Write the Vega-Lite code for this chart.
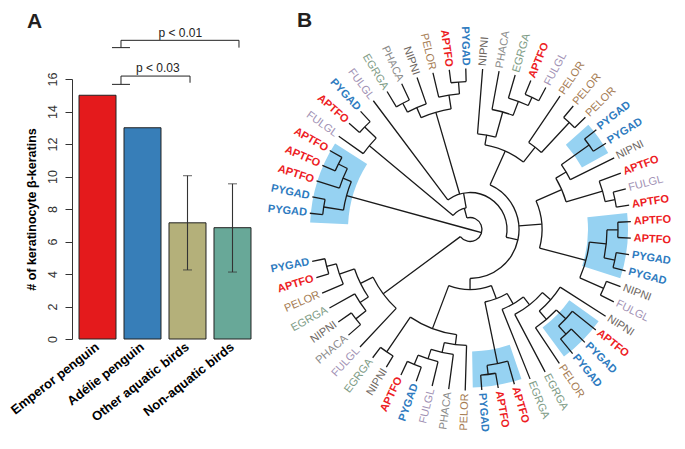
{
  "$schema": "https://vega.github.io/schema/vega-lite/v6.json",
  "padding": {"left": 8, "top": 10, "right": 0, "bottom": 0},
  "background": "white",
  "bounds": "flush",
  "spacing": 62,
  "config": {
    "view": {"stroke": null},
    "font": "Liberation Sans",
    "axisY": {"values": [0, 2, 4, 6, 8, 10, 12, 14, 16], "labelOverlap": false, "grid": false, "labelAngle": -90, "labelAlign": "center", "labelBaseline": "bottom", "tickSize": 7, "labelPadding": 6, "labelFontSize": 12.5, "labelColor": "#333", "tickColor": "#333", "domainColor": "#333", "titleFontSize": 12.5, "titleFontWeight": "bold", "titleColor": "#000", "titlePadding": 8, "labelFont": "Liberation Sans", "titleFont": "Liberation Sans"}
  },
  "resolve": {"scale": {"color": "independent"}},
  "datasets": {
    "bars": [
      {"group": "Emperor penguin", "value": 15},
      {"group": "Adélie penguin", "value": 13},
      {"group": "Other aquatic birds", "value": 7.15, "lo": 4.25, "hi": 10.05},
      {"group": "Non-aquatic birds", "value": 6.85, "lo": 4.12, "hi": 9.55}
    ],
    "brackets": [
      {"x": 1.322, "x2": 1.722, "y": 15.67, "y2": 15.67},
      {"x": 1.522, "x2": 1.522, "y": 15.67, "y2": 16.18},
      {"x": 1.522, "x2": 3.056, "y": 16.18, "y2": 16.18},
      {"x": 3.056, "x2": 3.056, "y": 16.18, "y2": 15.77},
      {"x": 1.322, "x2": 1.722, "y": 17.93, "y2": 17.93},
      {"x": 1.522, "x2": 1.522, "y": 17.93, "y2": 18.38},
      {"x": 1.522, "x2": 4.144, "y": 18.38, "y2": 18.38},
      {"x": 4.144, "x2": 4.144, "y": 18.38, "y2": 17.93}
    ],
    "ptext": [
      {"label": "p < 0.03", "x": 2.34, "y": 16.45},
      {"label": "p < 0.01", "x": 2.84, "y": 18.58}
    ],
    "hl": [
      {"t0": 272.5, "t1": 302.5, "r0": 122, "r1": 160},
      {"t0": 48.5, "t1": 61, "r0": 128, "r1": 158},
      {"t0": 84, "t1": 108, "r0": 118, "r1": 158},
      {"t0": 125.5, "t1": 143.5, "r0": 122, "r1": 158},
      {"t0": 161, "t1": 179, "r0": 122, "r1": 158}
    ],
    "segs": [
      {"t0": 275.8, "t1": 275.8, "r0": 148, "r1": 161},
      {"t0": 281.7, "t1": 281.7, "r0": 148, "r1": 161},
      {"t0": 287.6, "t1": 287.6, "r0": 137, "r1": 161},
      {"t0": 293.5, "t1": 293.5, "r0": 147, "r1": 161},
      {"t0": 299.4, "t1": 299.4, "r0": 147, "r1": 161},
      {"t0": 305.4, "t1": 305.4, "r0": 131, "r1": 161},
      {"t0": 311.3, "t1": 311.3, "r0": 147, "r1": 161},
      {"t0": 317.2, "t1": 317.2, "r0": 147, "r1": 161},
      {"t0": 323.1, "t1": 323.1, "r0": 37, "r1": 161},
      {"t0": 329.0, "t1": 329.0, "r0": 143, "r1": 161},
      {"t0": 334.9, "t1": 334.9, "r0": 143, "r1": 161},
      {"t0": 340.8, "t1": 340.8, "r0": 133, "r1": 161},
      {"t0": 346.7, "t1": 346.7, "r0": 136, "r1": 161},
      {"t0": 352.6, "t1": 352.6, "r0": 148, "r1": 161},
      {"t0": 358.5, "t1": 358.5, "r0": 148, "r1": 161},
      {"t0": 4.5, "t1": 4.5, "r0": 96, "r1": 161},
      {"t0": 10.4, "t1": 10.4, "r0": 122, "r1": 161},
      {"t0": 16.3, "t1": 16.3, "r0": 137, "r1": 161},
      {"t0": 22.2, "t1": 22.2, "r0": 146, "r1": 161},
      {"t0": 28.1, "t1": 28.1, "r0": 146, "r1": 161},
      {"t0": 34.0, "t1": 34.0, "r0": 105, "r1": 161},
      {"t0": 39.9, "t1": 39.9, "r0": 146, "r1": 161},
      {"t0": 45.8, "t1": 45.8, "r0": 146, "r1": 161},
      {"t0": 51.7, "t1": 51.7, "r0": 146, "r1": 161},
      {"t0": 57.6, "t1": 57.6, "r0": 146, "r1": 161},
      {"t0": 63.6, "t1": 63.6, "r0": 112, "r1": 161},
      {"t0": 69.5, "t1": 69.5, "r0": 138, "r1": 161},
      {"t0": 75.4, "t1": 75.4, "r0": 148, "r1": 161},
      {"t0": 81.3, "t1": 81.3, "r0": 148, "r1": 161},
      {"t0": 87.2, "t1": 87.2, "r0": 148, "r1": 161},
      {"t0": 93.1, "t1": 93.1, "r0": 148, "r1": 161},
      {"t0": 99.0, "t1": 99.0, "r0": 148, "r1": 161},
      {"t0": 104.9, "t1": 104.9, "r0": 148, "r1": 161},
      {"t0": 110.8, "t1": 110.8, "r0": 146, "r1": 161},
      {"t0": 116.7, "t1": 116.7, "r0": 146, "r1": 161},
      {"t0": 122.6, "t1": 122.6, "r0": 107, "r1": 161},
      {"t0": 128.6, "t1": 128.6, "r0": 131, "r1": 161},
      {"t0": 134.5, "t1": 134.5, "r0": 142, "r1": 161},
      {"t0": 140.4, "t1": 140.4, "r0": 142, "r1": 161},
      {"t0": 146.3, "t1": 146.3, "r0": 118, "r1": 161},
      {"t0": 152.2, "t1": 152.2, "r0": 96, "r1": 161},
      {"t0": 158.1, "t1": 158.1, "r0": 86, "r1": 161},
      {"t0": 164.0, "t1": 164.0, "r0": 137, "r1": 161},
      {"t0": 169.9, "t1": 169.9, "r0": 146, "r1": 161},
      {"t0": 175.8, "t1": 175.8, "r0": 146, "r1": 161},
      {"t0": 181.7, "t1": 181.7, "r0": 116, "r1": 161},
      {"t0": 187.6, "t1": 187.6, "r0": 126, "r1": 161},
      {"t0": 193.6, "t1": 193.6, "r0": 136, "r1": 161},
      {"t0": 199.5, "t1": 199.5, "r0": 146, "r1": 161},
      {"t0": 205.4, "t1": 205.4, "r0": 146, "r1": 161},
      {"t0": 211.3, "t1": 211.3, "r0": 148, "r1": 161},
      {"t0": 217.2, "t1": 217.2, "r0": 148, "r1": 161},
      {"t0": 223.1, "t1": 223.1, "r0": 108, "r1": 161},
      {"t0": 229.0, "t1": 229.0, "r0": 145, "r1": 161},
      {"t0": 234.9, "t1": 234.9, "r0": 145, "r1": 161},
      {"t0": 240.8, "t1": 240.8, "r0": 132, "r1": 161},
      {"t0": 246.7, "t1": 246.7, "r0": 138, "r1": 161},
      {"t0": 252.6, "t1": 252.6, "r0": 148, "r1": 161},
      {"t0": 258.6, "t1": 258.6, "r0": 148, "r1": 161},
      {"t0": 278.75, "t1": 278.75, "r0": 128, "r1": 148},
      {"t0": 296.45, "t1": 296.45, "r0": 137, "r1": 147},
      {"t0": 292.0, "t1": 292.0, "r0": 128, "r1": 137},
      {"t0": 285.4, "t1": 285.4, "r0": 0, "r1": 128},
      {"t0": 314.25, "t1": 314.25, "r0": 131, "r1": 147},
      {"t0": 309.8, "t1": 309.8, "r0": 22, "r1": 131},
      {"t0": 331.95, "t1": 331.95, "r0": 133, "r1": 143},
      {"t0": 336.4, "t1": 336.4, "r0": 122, "r1": 133},
      {"t0": 355.55, "t1": 355.55, "r0": 136, "r1": 148},
      {"t0": 351.1, "t1": 351.1, "r0": 122, "r1": 136},
      {"t0": 343.75, "t1": 343.75, "r0": 37, "r1": 122},
      {"t0": 25.15, "t1": 25.15, "r0": 137, "r1": 146},
      {"t0": 20.7, "t1": 20.7, "r0": 122, "r1": 137},
      {"t0": 15.55, "t1": 15.55, "r0": 96, "r1": 122},
      {"t0": 10.0, "t1": 10.0, "r0": 86, "r1": 96},
      {"t0": 42.85, "t1": 42.85, "r0": 105, "r1": 146},
      {"t0": 38.4, "t1": 38.4, "r0": 86, "r1": 105},
      {"t0": 24.2, "t1": 24.2, "r0": 49, "r1": 86},
      {"t0": 54.65, "t1": 54.65, "r0": 112, "r1": 146},
      {"t0": 59.1, "t1": 59.1, "r0": 100, "r1": 112},
      {"t0": 78.35, "t1": 78.35, "r0": 138, "r1": 148},
      {"t0": 73.9, "t1": 73.9, "r0": 100, "r1": 138},
      {"t0": 66.5, "t1": 66.5, "r0": 72, "r1": 100},
      {"t0": 90.15, "t1": 90.15, "r0": 137, "r1": 148},
      {"t0": 101.95, "t1": 101.95, "r0": 137, "r1": 148},
      {"t0": 96.05, "t1": 96.05, "r0": 120, "r1": 137},
      {"t0": 113.75, "t1": 113.75, "r0": 120, "r1": 146},
      {"t0": 104.9, "t1": 104.9, "r0": 72, "r1": 120},
      {"t0": 85.7, "t1": 85.7, "r0": 49, "r1": 72},
      {"t0": 137.45, "t1": 137.45, "r0": 131, "r1": 142},
      {"t0": 133.0, "t1": 133.0, "r0": 118, "r1": 131},
      {"t0": 139.65, "t1": 139.65, "r0": 107, "r1": 118},
      {"t0": 131.1, "t1": 131.1, "r0": 96, "r1": 107},
      {"t0": 141.65, "t1": 141.65, "r0": 86, "r1": 96},
      {"t0": 149.9, "t1": 149.9, "r0": 74, "r1": 86},
      {"t0": 172.85, "t1": 172.85, "r0": 137, "r1": 146},
      {"t0": 168.4, "t1": 168.4, "r0": 74, "r1": 137},
      {"t0": 159.15, "t1": 159.15, "r0": 60, "r1": 74},
      {"t0": 202.45, "t1": 202.45, "r0": 136, "r1": 146},
      {"t0": 198.0, "t1": 198.0, "r0": 126, "r1": 136},
      {"t0": 192.8, "t1": 192.8, "r0": 116, "r1": 126},
      {"t0": 187.25, "t1": 187.25, "r0": 106, "r1": 116},
      {"t0": 214.25, "t1": 214.25, "r0": 106, "r1": 148},
      {"t0": 200.75, "t1": 200.75, "r0": 60, "r1": 106},
      {"t0": 179.95, "t1": 179.95, "r0": 49, "r1": 60},
      {"t0": 102.1, "t1": 102.1, "r0": 37, "r1": 49},
      {"t0": 255.6, "t1": 255.6, "r0": 138, "r1": 148},
      {"t0": 251.15, "t1": 251.15, "r0": 122, "r1": 138},
      {"t0": 231.95, "t1": 231.95, "r0": 132, "r1": 145},
      {"t0": 236.4, "t1": 236.4, "r0": 122, "r1": 132},
      {"t0": 243.8, "t1": 243.8, "r0": 108, "r1": 122},
      {"t0": 233.45, "t1": 233.45, "r0": 12, "r1": 108},
      {"t0": 350, "t1": 350, "r0": 22, "r1": 37},
      {"t0": 345, "t1": 345, "r0": 12, "r1": 22},
      {"t0": 105, "t1": 105, "r0": 0, "r1": 12},
      {"t0": 275.8, "t1": 281.7, "r0": 148, "r1": 148},
      {"t0": 293.5, "t1": 299.4, "r0": 147, "r1": 147},
      {"t0": 287.6, "t1": 296.45, "r0": 137, "r1": 137},
      {"t0": 278.75, "t1": 292.0, "r0": 128, "r1": 128},
      {"t0": 311.3, "t1": 317.2, "r0": 147, "r1": 147},
      {"t0": 305.4, "t1": 314.25, "r0": 131, "r1": 131},
      {"t0": 329.0, "t1": 334.9, "r0": 143, "r1": 143},
      {"t0": 331.95, "t1": 340.8, "r0": 133, "r1": 133},
      {"t0": 352.6, "t1": 358.5, "r0": 148, "r1": 148},
      {"t0": 346.7, "t1": 355.55, "r0": 136, "r1": 136},
      {"t0": 336.4, "t1": 351.1, "r0": 122, "r1": 122},
      {"t0": 22.2, "t1": 28.1, "r0": 146, "r1": 146},
      {"t0": 16.3, "t1": 25.15, "r0": 137, "r1": 137},
      {"t0": 10.4, "t1": 20.7, "r0": 122, "r1": 122},
      {"t0": 4.5, "t1": 15.55, "r0": 96, "r1": 96},
      {"t0": 39.9, "t1": 45.8, "r0": 146, "r1": 146},
      {"t0": 34.0, "t1": 42.85, "r0": 105, "r1": 105},
      {"t0": 10.0, "t1": 38.4, "r0": 86, "r1": 86},
      {"t0": 51.7, "t1": 57.6, "r0": 146, "r1": 146},
      {"t0": 54.65, "t1": 63.6, "r0": 112, "r1": 112},
      {"t0": 75.4, "t1": 81.3, "r0": 148, "r1": 148},
      {"t0": 69.5, "t1": 78.35, "r0": 138, "r1": 138},
      {"t0": 59.1, "t1": 73.9, "r0": 100, "r1": 100},
      {"t0": 87.2, "t1": 93.1, "r0": 148, "r1": 148},
      {"t0": 99.0, "t1": 104.9, "r0": 148, "r1": 148},
      {"t0": 90.15, "t1": 101.95, "r0": 137, "r1": 137},
      {"t0": 110.8, "t1": 116.7, "r0": 146, "r1": 146},
      {"t0": 96.05, "t1": 113.75, "r0": 120, "r1": 120},
      {"t0": 66.5, "t1": 104.9, "r0": 72, "r1": 72},
      {"t0": 134.5, "t1": 140.4, "r0": 142, "r1": 142},
      {"t0": 128.6, "t1": 137.45, "r0": 131, "r1": 131},
      {"t0": 133.0, "t1": 146.3, "r0": 118, "r1": 118},
      {"t0": 122.6, "t1": 139.65, "r0": 107, "r1": 107},
      {"t0": 131.1, "t1": 152.2, "r0": 96, "r1": 96},
      {"t0": 141.65, "t1": 158.1, "r0": 86, "r1": 86},
      {"t0": 169.9, "t1": 175.8, "r0": 146, "r1": 146},
      {"t0": 164.0, "t1": 172.85, "r0": 137, "r1": 137},
      {"t0": 149.9, "t1": 168.4, "r0": 74, "r1": 74},
      {"t0": 199.5, "t1": 205.4, "r0": 146, "r1": 146},
      {"t0": 193.6, "t1": 202.45, "r0": 136, "r1": 136},
      {"t0": 187.6, "t1": 198.0, "r0": 126, "r1": 126},
      {"t0": 181.7, "t1": 192.8, "r0": 116, "r1": 116},
      {"t0": 211.3, "t1": 217.2, "r0": 148, "r1": 148},
      {"t0": 187.25, "t1": 214.25, "r0": 106, "r1": 106},
      {"t0": 159.15, "t1": 200.75, "r0": 60, "r1": 60},
      {"t0": 24.2, "t1": 179.95, "r0": 49, "r1": 49},
      {"t0": 252.6, "t1": 258.6, "r0": 148, "r1": 148},
      {"t0": 246.7, "t1": 255.6, "r0": 138, "r1": 138},
      {"t0": 229.0, "t1": 234.9, "r0": 145, "r1": 145},
      {"t0": 231.95, "t1": 240.8, "r0": 132, "r1": 132},
      {"t0": 236.4, "t1": 251.15, "r0": 122, "r1": 122},
      {"t0": 223.1, "t1": 243.8, "r0": 108, "r1": 108},
      {"t0": 323.1, "t1": 462.1, "r0": 37, "r1": 37},
      {"t0": 309.8, "t1": 350, "r0": 22, "r1": 22},
      {"t0": 345, "t1": 593.45, "r0": 12, "r1": 12}
    ],
    "tips": [
      {"label": "PYGAD", "t": 275.8}, {"label": "PYGAD", "t": 281.7}, {"label": "APTFO", "t": 287.6},
      {"label": "APTFO", "t": 293.5}, {"label": "APTFO", "t": 299.4}, {"label": "FULGL", "t": 305.4},
      {"label": "APTFO", "t": 311.3}, {"label": "PYGAD", "t": 317.2}, {"label": "FULGL", "t": 323.1},
      {"label": "EGRGA", "t": 329.0}, {"label": "PHACA", "t": 334.9}, {"label": "NIPNI", "t": 340.8},
      {"label": "PELOR", "t": 346.7}, {"label": "APTFO", "t": 352.6}, {"label": "PYGAD", "t": 358.5},
      {"label": "NIPNI", "t": 4.5}, {"label": "PHACA", "t": 10.4}, {"label": "EGRGA", "t": 16.3},
      {"label": "APTFO", "t": 22.2}, {"label": "FULGL", "t": 28.1}, {"label": "PELOR", "t": 34.0},
      {"label": "PELOR", "t": 39.9}, {"label": "PELOR", "t": 45.8}, {"label": "PYGAD", "t": 51.7},
      {"label": "PYGAD", "t": 57.6}, {"label": "NIPNI", "t": 63.6}, {"label": "APTFO", "t": 69.5},
      {"label": "FULGL", "t": 75.4}, {"label": "APTFO", "t": 81.3}, {"label": "APTFO", "t": 87.2},
      {"label": "APTFO", "t": 93.1}, {"label": "PYGAD", "t": 99.0}, {"label": "PYGAD", "t": 104.9},
      {"label": "NIPNI", "t": 110.8}, {"label": "FULGL", "t": 116.7}, {"label": "NIPNI", "t": 122.6},
      {"label": "APTFO", "t": 128.6}, {"label": "PYGAD", "t": 134.5}, {"label": "PYGAD", "t": 140.4},
      {"label": "PELOR", "t": 146.3}, {"label": "EGRGA", "t": 152.2}, {"label": "EGRGA", "t": 158.1},
      {"label": "APTFO", "t": 164.0}, {"label": "APTFO", "t": 169.9}, {"label": "PYGAD", "t": 175.8},
      {"label": "PELOR", "t": 181.7}, {"label": "PHACA", "t": 187.6}, {"label": "FULGL", "t": 193.6},
      {"label": "PYGAD", "t": 199.5}, {"label": "APTFO", "t": 205.4}, {"label": "NIPNI", "t": 211.3},
      {"label": "EGRGA", "t": 217.2}, {"label": "FULGL", "t": 223.1}, {"label": "PHACA", "t": 229.0},
      {"label": "NIPNI", "t": 234.9}, {"label": "EGRGA", "t": 240.8}, {"label": "PELOR", "t": 246.7},
      {"label": "APTFO", "t": 252.6}, {"label": "PYGAD", "t": 258.6}
    ]
  },
  "hconcat": [
    {
      "width": 186,
      "height": 260,
      "title": {"text": "A", "anchor": "start", "frame": "group", "fontSize": 21, "fontWeight": "bold", "font": "Liberation Sans", "color": "#231F20", "dx": -45, "dy": 5, "offset": 0},
      "layer": [
        {
          "data": {"name": "bars"},
          "encoding": {
            "x": {"field": "group", "type": "nominal", "sort": null,
              "scale": {"paddingInner": 0.1778, "paddingOuter": 0.1556},
              "axis": {"title": null, "labelAngle": -38, "labelFontWeight": "bold", "labelFontSize": 13, "labelColor": "#000", "domain": false, "ticks": false, "labelPadding": 6, "labelAlign": "right", "labelBaseline": "middle", "labelFont": "Liberation Sans"}}
          },
          "layer": [
            {
              "mark": {"type": "bar", "stroke": "#222", "strokeWidth": 1},
              "encoding": {
                "y": {"field": "value", "type": "quantitative", "title": "# of keratinocyte β-keratins",
                  "scale": {"domain": [0, 16], "nice": false, "zero": true},
                  "axis": {"values": [0, 2, 4, 6, 8, 10, 12, 14, 16], "labelOverlap": false}},
                "color": {"field": "group", "type": "nominal", "legend": null,
                  "scale": {"domain": ["Emperor penguin", "Adélie penguin", "Other aquatic birds", "Non-aquatic birds"], "range": ["#E41A1C", "#377EB8", "#B4B07A", "#68A898"]}}
              }
            },
            {
              "transform": [{"filter": "isValid(datum.lo)"}],
              "mark": {"type": "rule", "color": "#333", "strokeWidth": 1.1},
              "encoding": {"y": {"field": "lo", "type": "quantitative", "title": "# of keratinocyte β-keratins", "axis": {"values": [0, 2, 4, 6, 8, 10, 12, 14, 16], "labelOverlap": false}}, "y2": {"field": "hi"}}
            },
            {
              "transform": [{"filter": "isValid(datum.lo)"}],
              "mark": {"type": "tick", "color": "#333", "size": 9, "thickness": 1.1},
              "encoding": {"y": {"field": "lo", "type": "quantitative", "title": "# of keratinocyte β-keratins", "axis": {"values": [0, 2, 4, 6, 8, 10, 12, 14, 16], "labelOverlap": false}}}
            },
            {
              "transform": [{"filter": "isValid(datum.hi)"}],
              "mark": {"type": "tick", "color": "#333", "size": 9, "thickness": 1.1},
              "encoding": {"y": {"field": "hi", "type": "quantitative", "title": "# of keratinocyte β-keratins", "axis": {"values": [0, 2, 4, 6, 8, 10, 12, 14, 16], "labelOverlap": false}}}
            }
          ]
        },
        {
          "layer": [
            {
              "data": {"name": "brackets"},
              "mark": {"type": "rule", "color": "#222", "strokeWidth": 1},
              "encoding": {
                "x": {"field": "x", "type": "quantitative", "scale": {"domain": [0.4333, 4.5667], "nice": false, "zero": false}, "axis": null},
                "x2": {"field": "x2"},
                "y": {"field": "y", "type": "quantitative", "title": "# of keratinocyte β-keratins", "axis": {"values": [0, 2, 4, 6, 8, 10, 12, 14, 16], "labelOverlap": false}},
                "y2": {"field": "y2"}
              }
            },
            {
              "data": {"name": "ptext"},
              "mark": {"type": "text", "fontSize": 12, "baseline": "alphabetic", "align": "center", "color": "#222", "font": "Liberation Sans"},
              "encoding": {
                "x": {"field": "x", "type": "quantitative", "axis": null},
                "y": {"field": "y", "type": "quantitative", "title": "# of keratinocyte β-keratins", "axis": {"values": [0, 2, 4, 6, 8, 10, 12, 14, 16], "labelOverlap": false}},
                "text": {"field": "label"}
              }
            }
          ]
        }
      ],
      "resolve": {"scale": {"x": "independent"}, "axis": {"x": "independent"}}
    },
    {
      "width": 300,
      "height": 301,
      "title": {"text": "B", "anchor": "start", "frame": "group", "fontSize": 21, "fontWeight": "bold", "font": "Liberation Sans", "color": "#231F20", "dx": -23, "dy": 5, "offset": 0},
      "layer": [
        {
          "data": {"name": "hl"},
          "mark": {"type": "arc", "fill": "#96D2F2", "stroke": null},
          "encoding": {
            "theta": {"field": "t0", "type": "quantitative", "stack": null, "scale": {"type": "linear", "domain": [0, 360], "range": [0, 6.283185307179586]}},
            "theta2": {"field": "t1"},
            "radius": {"field": "r1", "type": "quantitative", "scale": {"type": "linear", "domain": [0, 200], "range": [0, 200], "zero": true}},
            "radius2": {"field": "r0"}
          }
        },
        {
          "data": {"name": "segs"},
          "mark": {"type": "arc", "filled": false, "stroke": "#1a1a1a", "strokeWidth": 1.3},
          "encoding": {
            "theta": {"field": "t0", "type": "quantitative", "stack": null},
            "theta2": {"field": "t1"},
            "radius": {"field": "r1", "type": "quantitative"},
            "radius2": {"field": "r0"}
          }
        },
        {
          "data": {"name": "tips"},
          "transform": [{"filter": "datum.t < 180 && datum.label != 'APTFO' && datum.label != 'PYGAD'"}, {"calculate": "datum.t - 90", "as": "rot"}],
          "mark": {"type": "text", "align": "left", "baseline": "middle", "fontSize": 11, "font": "Liberation Sans"},
          "encoding": {
            "theta": {"field": "t", "type": "quantitative", "stack": null},
            "radius": {"datum": 164, "type": "quantitative"},
            "angle": {"field": "rot", "type": "quantitative", "scale": null},
            "text": {"field": "label"},
            "color": {"field": "label", "type": "nominal", "legend": null, "scale": {"domain": ["APTFO", "PYGAD", "PELOR", "EGRGA", "PHACA", "NIPNI", "FULGL"], "range": ["#ED1C24", "#2E7BC0", "#A57B52", "#7E9C86", "#8B8B8B", "#6D6661", "#A191B4"]}}
          }
        },
        {
          "data": {"name": "tips"},
          "transform": [{"filter": "datum.t < 180 && (datum.label == 'APTFO' || datum.label == 'PYGAD')"}, {"calculate": "datum.t - 90", "as": "rot"}],
          "mark": {"type": "text", "align": "left", "baseline": "middle", "fontSize": 11, "font": "Liberation Sans", "fontWeight": "bold"},
          "encoding": {
            "theta": {"field": "t", "type": "quantitative", "stack": null},
            "radius": {"datum": 164, "type": "quantitative"},
            "angle": {"field": "rot", "type": "quantitative", "scale": null},
            "text": {"field": "label"},
            "color": {"field": "label", "type": "nominal", "legend": null}
          }
        },
        {
          "data": {"name": "tips"},
          "transform": [{"filter": "datum.t >= 180 && datum.label != 'APTFO' && datum.label != 'PYGAD'"}, {"calculate": "datum.t - 270", "as": "rot"}],
          "mark": {"type": "text", "align": "right", "baseline": "middle", "fontSize": 11, "font": "Liberation Sans"},
          "encoding": {
            "theta": {"field": "t", "type": "quantitative", "stack": null},
            "radius": {"datum": 164, "type": "quantitative"},
            "angle": {"field": "rot", "type": "quantitative", "scale": null},
            "text": {"field": "label"},
            "color": {"field": "label", "type": "nominal", "legend": null}
          }
        },
        {
          "data": {"name": "tips"},
          "transform": [{"filter": "datum.t >= 180 && (datum.label == 'APTFO' || datum.label == 'PYGAD')"}, {"calculate": "datum.t - 270", "as": "rot"}],
          "mark": {"type": "text", "align": "right", "baseline": "middle", "fontSize": 11, "font": "Liberation Sans", "fontWeight": "bold"},
          "encoding": {
            "theta": {"field": "t", "type": "quantitative", "stack": null},
            "radius": {"datum": 164, "type": "quantitative"},
            "angle": {"field": "rot", "type": "quantitative", "scale": null},
            "text": {"field": "label"},
            "color": {"field": "label", "type": "nominal", "legend": null}
          }
        }
      ]
    }
  ]
}
